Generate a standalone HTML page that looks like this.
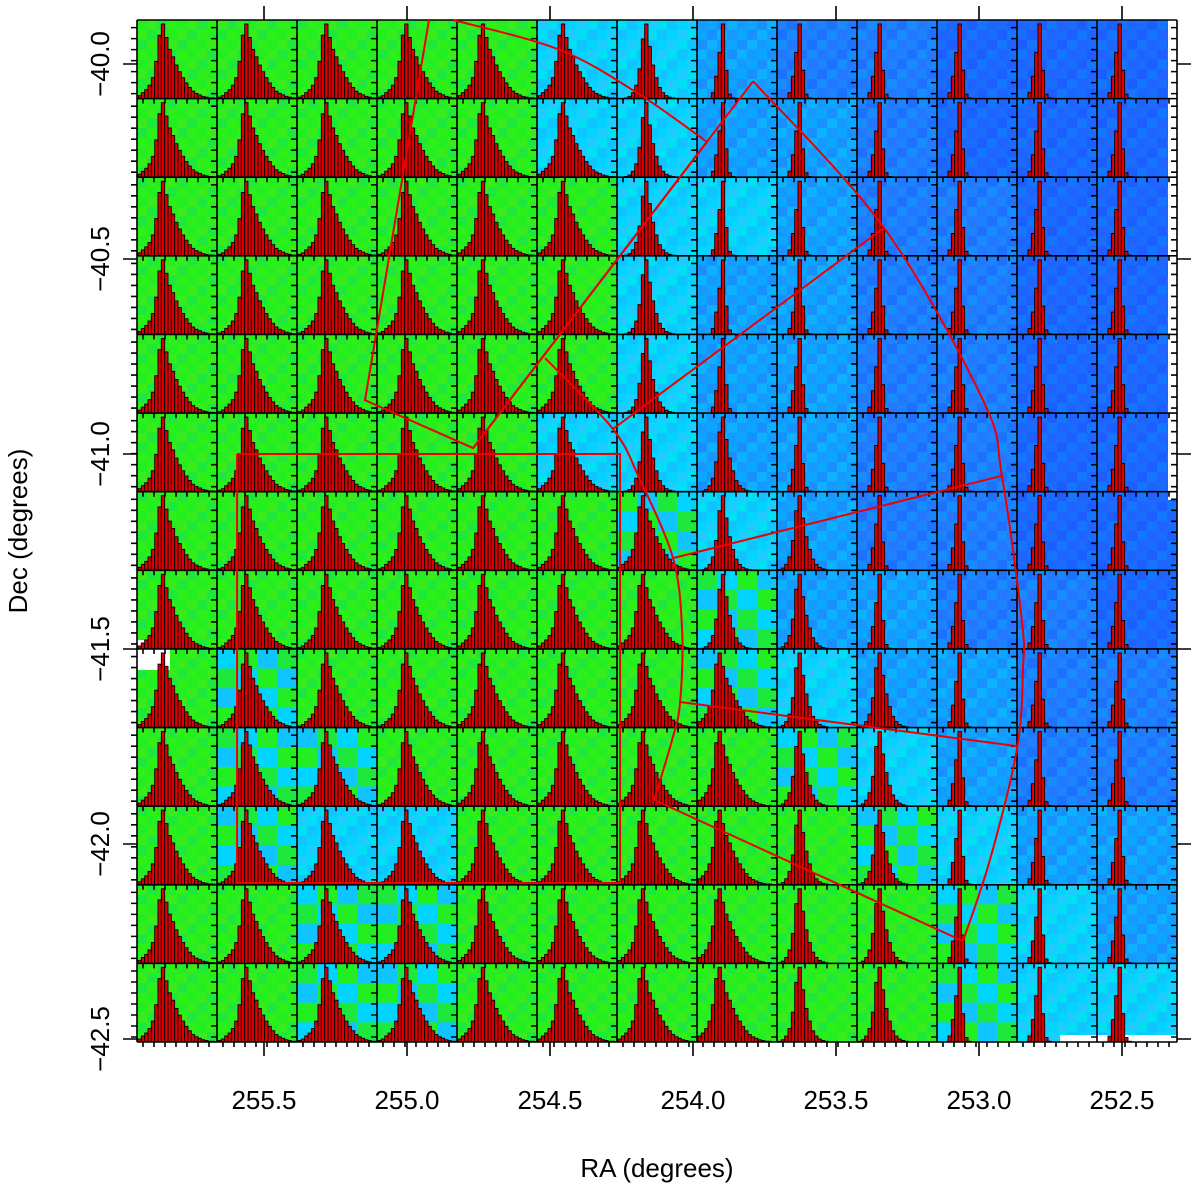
<!DOCTYPE html>
<html><head><meta charset="utf-8"><title>Velocity histograms over RA/Dec map</title>
<style>
html,body{margin:0;padding:0;background:#fff;}
svg{display:block;font-family:"Liberation Sans",Arial,sans-serif;}
</style></head>
<body>
<svg id="chart" width="1200" height="1189" viewBox="0 0 1200 1189" xmlns="http://www.w3.org/2000/svg">
<g id="bg"></g>
<g id="hist"></g>
<g id="grid"></g>
<g id="regions"></g>
<g id="axes"></g>
</svg>
<script>
// ---- data ----
const raTicks = [255.5, 255.0, 254.5, 254.0, 253.5, 253.0, 252.5];
const raTickLabels = ["255.5","255.0","254.5","254.0","253.5","253.0","252.5"];
const decTicks = [-40.0, -40.5, -41.0, -41.5, -42.0, -42.5];
const decTickLabels = ["\u221240.0","\u221240.5","\u221241.0","\u221241.5","\u221242.0","\u221242.5"];
// background colour class per grid cell (rows top->bottom)
const bgRows = [
"GGGGGCCLBBDDD","GGGGGCCLLBDDD","GGGGGGCCLBBDD","GGGGGGCLLBBDD","GGGGGGCLLBBDD",
"GGGGGCCLLBBDD","GGGGGGXCLBBDD","GGGGGGGXLLBBD","GXGGGGGXCLLBB","GXXGGGGGXCLBB",
"GXCCGGGGGXCLL","GGXXGGGGGGXCL","GGXXGGGGGGXCC"];
// histogram shapes (relative counts per bin)
const shapeBroad  = [2,4,8,12,18,28,50,85,100,82,66,56,45,36,28,21,15,10,7,5,3,2,1,1];
const shapeMedium = [0,0,0,1,3,8,18,40,80,100,70,45,28,15,8,4,2,1,0,0,0,0,0,0];
const shapeNarrow = [0,0,0,0,0,0,8,30,62,100,38,6,1,0,0,0,0,0,0,0,0,0,0,0];
const shapeRows = [
"BBBBBBMNNNNNN","BBBBBBMNNNNNN","BBBBBBMNNNNNN","BBBBBBMNNNNNN","BBBBBBMNNNNNN",
"BBBBBBMMNNNNN","BBBBBBBMMNNNN","BBBBBBBMMNNNN","BBBBBBBBMMNNN","BBBBBBBBMMNNN",
"BBBBBBBBMMNNN","BBBBBBBBMMNNN","BBBBBBBBMMNNN"];
const colShift = [-1,0,0,0,-1,-1,-1,-2,-3,-3,-3,-3,-3];
// region outlines in sky coordinates
const rectRA = [255.594, 254.255, 254.255, 255.594, 255.594];
const rectDec = [-41.0, -41.0, -42.100, -42.100, -41.0];
const wedgeArcRA = [254.839, 254.465, 254.185, 253.951];
const wedgeArcDec = [-39.887, -39.964, -40.079, -40.200];
const wedgeRA = [253.951, 254.769, 255.147, 254.923];
const wedgeDec = [-40.200, -40.985, -40.862, -39.887];
const spineRA = [254.769, 253.790];
const spineDec = [-40.985, -40.044];
const outerRA = [253.790, 253.332, 252.986, 252.920, 252.850, 252.846, 252.867, 252.962, 253.056];
const outerDec = [-40.044, -40.420, -40.862, -41.056, -41.428, -41.549, -41.756, -42.041, -42.249];
const innerRA = [254.517, 254.280, 254.185, 254.070, 254.038, 254.045, 254.073, 254.136];
const innerDec = [-40.754, -40.936, -41.067, -41.267, -41.451, -41.636, -41.733, -41.887];
const spokeRA = [[254.280,253.332],[254.070,252.920],[254.045,252.867],[254.136,253.056]];
const spokeDec = [[-40.936,-40.420],[-41.267,-41.056],[-41.636,-41.749],[-41.887,-42.249]];

// ---- scales ----
const X0 = 137, X1 = 1177, Y0 = 20, Y1 = 1042;
const xs = ra => 264 + (255.5 - ra) * 286;
const ys = dec => 64 + (-40.0 - dec) * 390;
const NS = "http://www.w3.org/2000/svg";
function mk(tag, attrs, parent){const e=document.createElementNS(NS,tag);for(const k in attrs)e.setAttribute(k,attrs[k]);parent.appendChild(e);return e;}

const palette = {
  G:["#22ee22","#2cf018","#1ee83c","#38ec1c"],
  X:["#22ee22","#00d4ff","#1ee83c","#10c4ff"],
  C:["#00d4ff","#10c4ff","#00e0f4","#20ccff"],
  L:["#0aa6ff","#169aff","#0cb2ff","#1a90ff"],
  B:["#1c82ff","#2478ff","#168cff","#1e70ff"],
  D:["#1a6cff","#2064ff","#1476ff","#1c5eff"]
};
const nR = 13, nC = 13, cw = (X1-X0)/nC, ch = (Y1-Y0)/nR;
const bg = document.getElementById('bg');
for(let r=0;r<nR;r++){for(let c=0;c<nC;c++){
  const code = bgRows[r][c];
  for(let i=0;i<8;i++)for(let j=0;j<8;j++){
    const k=code==="X" ? (((i>>1)+(j>>1)*3+r+c)%4) : (i*7+j*3+r*5+c*11)%4;
    const el = mk('rect',{x:(X0+c*cw+j*cw/8).toFixed(2),y:(Y0+r*ch+i*ch/8).toFixed(2),width:(cw/8+0.6).toFixed(2),height:(ch/8+0.6).toFixed(2),fill:palette[code][k]},bg);
    
    
  }
}}
// white gaps
[[1168,Y0,9,480],[137,640,33,30],[137,650,16,20],[1060,1035,117,7]].forEach(w=>{
  const el=mk('rect',{x:w[0],y:w[1],width:w[2],height:w[3],fill:"#ffffff"},bg);
  
  
});

// histograms
const hist = document.getElementById('hist');
const shapes = {B:shapeBroad, M:shapeMedium, N:shapeNarrow};
const bw = cw/24;
for(let r=0;r<nR;r++){for(let c=0;c<nC;c++){
  const g = mk('g',{},hist);
  
  
  const s = shapes[shapeRows[r][c]];
  const base = Y0+(r+1)*ch;
  for(let b=0;b<s.length;b++){
    const v=s[b]; if(v<=0) continue;
    const bi=b+colShift[c]; if(bi<0||bi>=24) continue;
    const h=v/100*(ch-4);
    const el=mk('rect',{x:(X0+c*cw+bi*bw+1).toFixed(2),y:(base-h).toFixed(2),width:bw.toFixed(2),height:h.toFixed(2),fill:"#dd0000",stroke:"#000","stroke-width":0.9},g);
    
    
  }
}}

// grid lines & cell ticks
const grid=document.getElementById('grid');
let d="";
for(let c=0;c<=nC;c++){const x=X0+c*cw; d+=`M${x},${Y0}V${Y1}`;
  for(let r=0;r<nR;r++){for(let t=0;t<7;t++){const y=Y0+(r+1)*ch-5-t*11; d+=`M${x-6},${y}H${x}`;}}}
for(let r=0;r<=nR;r++){const y=Y0+r*ch; d+=`M${X0},${y}H${X1}`;
  if(r>0) for(let c=0;c<nC;c++){for(let t=0;t<7;t++){const x=X0+c*cw+6+t*11; d+=`M${x},${y}V${y+5}`;}}}
const gp=mk('path',{d:d,stroke:"#000","stroke-width":1.6,fill:"none"},grid);



// regions
const reg=document.getElementById('regions');
function poly(ras,decs,name){
  const p=ras.map((a,i)=>xs(a).toFixed(1)+","+ys(decs[i]).toFixed(1)).join(" ");
  const el=mk('polyline',{points:p,fill:"none",stroke:"#ee0000","stroke-width":2},reg);
  
  
}
function curve(ras,decs,name){
  const P=ras.map((a,i)=>[xs(a),ys(decs[i])]);
  let s=`M${P[0][0].toFixed(1)},${P[0][1].toFixed(1)}`;
  for(let i=0;i<P.length-1;i++){
    const p0=P[Math.max(0,i-1)],p1=P[i],p2=P[i+1],p3=P[Math.min(P.length-1,i+2)];
    const c1=[p1[0]+(p2[0]-p0[0])/6,p1[1]+(p2[1]-p0[1])/6];
    const c2=[p2[0]-(p3[0]-p1[0])/6,p2[1]-(p3[1]-p1[1])/6];
    s+=`C${c1[0].toFixed(1)},${c1[1].toFixed(1)} ${c2[0].toFixed(1)},${c2[1].toFixed(1)} ${p2[0].toFixed(1)},${p2[1].toFixed(1)}`;
  }
  const el=mk('path',{d:s,fill:"none",stroke:"#ee0000","stroke-width":2},reg);
  
  
}
poly(rectRA,rectDec,'rect-region');
curve(wedgeArcRA,wedgeArcDec,'wedge-arc');
poly(wedgeRA,wedgeDec,'wedge-region');
poly(spineRA,spineDec,'wedge-spine');
curve(outerRA,outerDec,'outer-arc');
curve(innerRA,innerDec,'inner-arc');
spokeRA.forEach((a,i)=>poly(a,spokeDec[i],'spoke-line'));

// axes
const ax=document.getElementById('axes');
let ad="";
raTicks.forEach((v,i)=>{const x=xs(v); ad+=`M${x},${Y1}V${Y1+14}M${x},${Y0}V${Y0-14}`;
  const t=mk('text',{x:x,y:1109,"font-size":26,"text-anchor":"middle",fill:"#000"},ax);
  t.textContent=raTickLabels[i];
  
  
});
decTicks.forEach((v,i)=>{const y=ys(v); ad+=`M${X0},${y}H${X0-14}M${X1},${y}H${X1+14}`;
  const t=mk('text',{x:0,y:0,"font-size":26,"text-anchor":"middle",fill:"#000",transform:`translate(109,${y}) rotate(-90)`},ax);
  t.textContent=decTickLabels[i];
  
  
});
const ap=mk('path',{d:ad,stroke:"#000","stroke-width":1.6,fill:"none"},ax);


const xt=mk('text',{x:657,y:1177,"font-size":26,"text-anchor":"middle",fill:"#000"},ax);
xt.textContent="RA (degrees)";


const yt=mk('text',{x:0,y:0,"font-size":26,"text-anchor":"middle",fill:"#000",transform:"translate(27,531) rotate(-90)"},ax);
yt.textContent="Dec (degrees)";


</script>
</body></html>
